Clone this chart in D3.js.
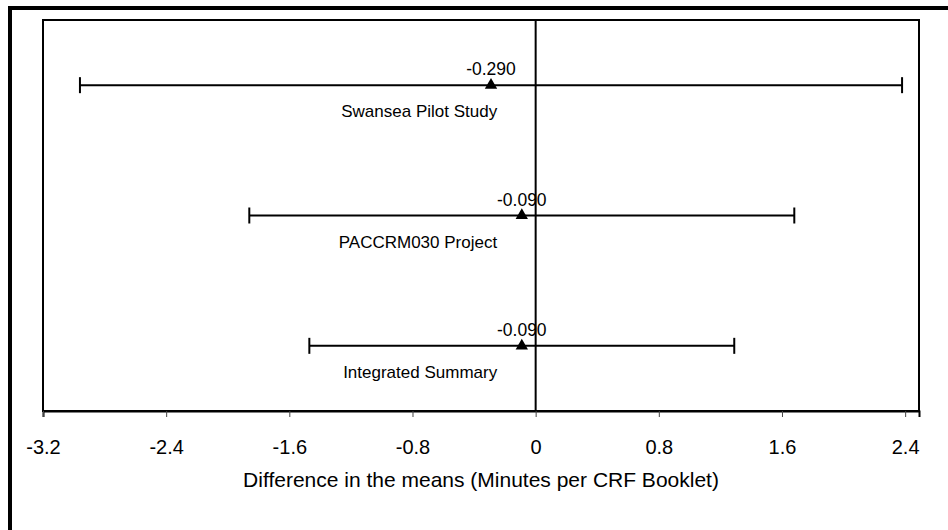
<!DOCTYPE html>
<html>
<head>
<meta charset="utf-8">
<script src="https://cdn.jsdelivr.net/npm/d3@7"></script>
<style>
  html, body { margin: 0; padding: 0; background: #fff; }
  svg { display: block; font-family: "Liberation Sans", Arial, sans-serif; }
</style>
</head>
<body>
<svg class="js-render-chart" width="948" height="530"></svg>
<script>
"use strict";

//data

const studies = ["Swansea Pilot Study", "PACCRM030 Project", "Integrated Summary"];
const means = [-0.29, -0.09, -0.09];
const lowers = [-2.96, -1.86, -1.47];
const uppers = [2.38, 1.68, 1.29];
const tickValues = [-3.2, -2.4, -1.6, -0.8, 0, 0.8, 1.6, 2.4];

//layout

const plot = { left: 43, right: 919, top: 20, bottom: 411 };

//number format (plain hyphen for negatives)

const fmt = (spec) => (d) => d3.format(spec)(d).replace("\u2212", "-");

//render chart

const renderChart = () => {

  const svg = d3.select(".js-render-chart");

  //outer frame

  svg.append("rect")
    .attr("x", 10)
    .attr("y", 8)
    .attr("width", 1000)
    .attr("height", 600)
    .attr("fill", "none")
    .attr("stroke", "#000")
    .attr("stroke-width", 4);

  //scales

  const x = d3.scaleLinear()
    .domain([-3.2, 2.49])
    .range([plot.left, plot.right]);

  const y = d3.scalePoint()
    .domain(studies)
    .range([plot.top, plot.bottom])
    .padding(0.5);

  //plot frame

  svg.append("rect")
    .attr("x", plot.left)
    .attr("y", plot.top)
    .attr("width", plot.right - plot.left)
    .attr("height", plot.bottom - plot.top)
    .attr("fill", "none")
    .attr("stroke", "#000")
    .attr("stroke-width", 2);

  //axis

  const axis = svg.append("g")
    .attr("transform", `translate(0, ${plot.bottom})`)
    .call(d3.axisBottom(x)
      .tickValues(tickValues)
      .tickSize(6)
      .tickPadding(23)
      .tickFormat((d) => d === 0 ? "0" : fmt(".1f")(d)));

  axis.select(".domain").attr("stroke-width", 2);
  axis.selectAll(".tick line").attr("stroke", "#444").attr("stroke-width", 1);
  axis.selectAll(".tick text")
    .attr("font-size", 20)
    .attr("font-family", "Liberation Sans, Arial, sans-serif")
    .attr("fill", "#000");

  svg.append("text")
    .attr("x", (plot.left + plot.right) / 2)
    .attr("y", 487)
    .attr("text-anchor", "middle")
    .attr("font-size", 21)
    .text("Difference in the means (Minutes per CRF Booklet)");

  //zero line

  svg.append("line")
    .attr("x1", x(0))
    .attr("x2", x(0))
    .attr("y1", plot.top)
    .attr("y2", plot.bottom)
    .attr("stroke", "#000")
    .attr("stroke-width", 2);

  //error bars

  const rows = studies.map((name, i) => ({
    name,
    mean: means[i],
    lo: lowers[i],
    hi: uppers[i]
  }));

  const row = svg.selectAll(".row")
    .data(rows)
    .enter()
    .append("g")
    .attr("class", "row")
    .attr("transform", (d) => `translate(0, ${y(d.name)})`);

  row.append("line")
    .attr("x1", (d) => x(d.lo))
    .attr("x2", (d) => x(d.hi))
    .attr("stroke", "#000")
    .attr("stroke-width", 2);

  ["lo", "hi"].forEach((k) => {
    row.append("line")
      .attr("x1", (d) => x(d[k]))
      .attr("x2", (d) => x(d[k]))
      .attr("y1", -8)
      .attr("y2", 8)
      .attr("stroke", "#000")
      .attr("stroke-width", 2);
  });

  row.append("path")
    .attr("d", d3.symbol(d3.symbolTriangle, 66))
    .attr("transform", (d) => `translate(${x(d.mean)}, 0)`)
    .attr("fill", "#000");

  //labels

  row.append("text")
    .attr("x", (d) => x(d.mean))
    .attr("y", -10)
    .attr("text-anchor", "middle")
    .attr("font-size", 17.5)
    .text((d) => fmt(".3f")(d.mean));

  row.append("text")
    .attr("x", x(-0.25))
    .attr("y", 32)
    .attr("text-anchor", "end")
    .attr("font-size", 17)
    .text((d) => d.name);

};

renderChart();
</script>
</body>
</html>
